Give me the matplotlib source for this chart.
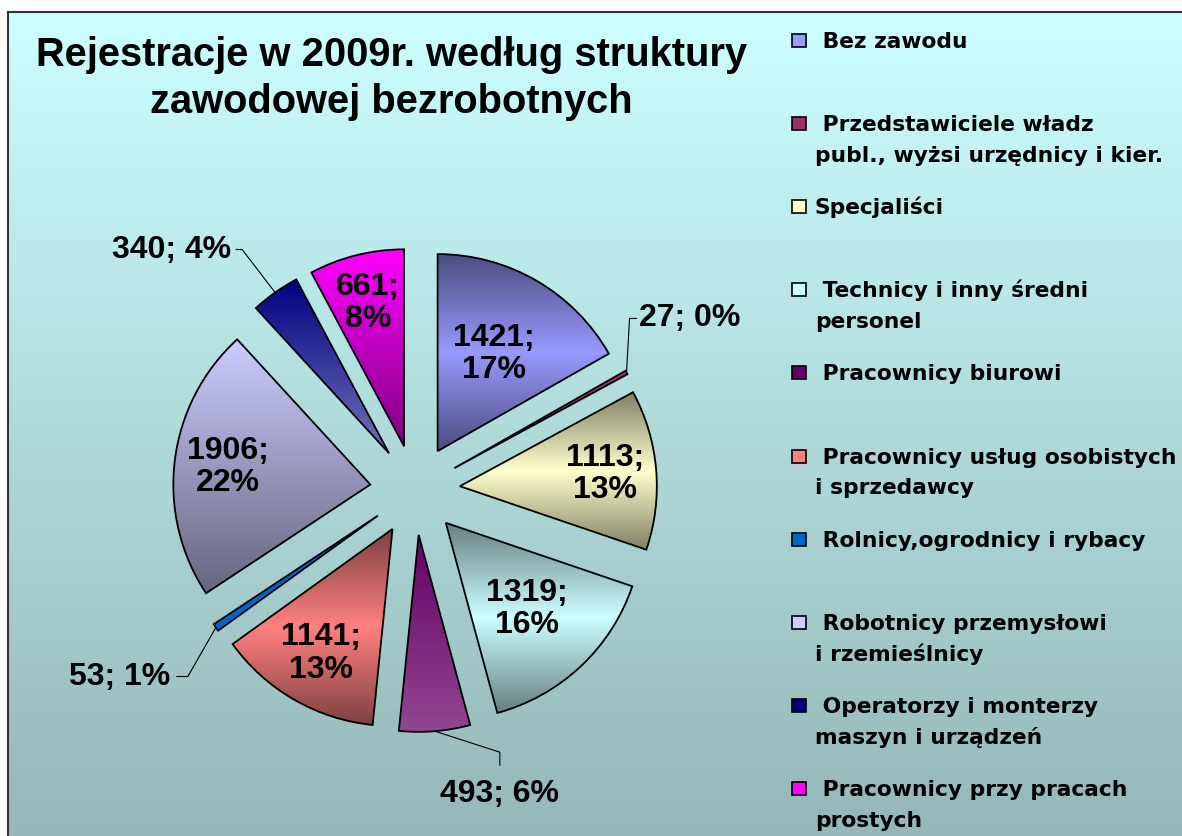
import numpy as np
import matplotlib
matplotlib.use("Agg")
import matplotlib.pyplot as plt
from matplotlib.colors import to_rgb
from matplotlib.patches import Rectangle

# ---------------- data ----------------
categories = [
    " Bez zawodu",
    " Przedstawiciele władz\npubl., wyżsi urzędnicy i kier.",
    "Specjaliści",
    " Technicy i inny średni\npersonel",
    " Pracownicy biurowi",
    " Pracownicy usług osobistych\ni sprzedawcy",
    " Rolnicy,ogrodnicy i rybacy",
    " Robotnicy przemysłowi\ni rzemieślnicy",
    " Operatorzy i monterzy\nmaszyn i urządzeń",
    " Pracownicy przy pracach\nprostych",
]
values = [1421, 27, 1113, 1319, 493, 1141, 53, 1906, 340, 661]
colors = ["#9999FF", "#993366", "#FFFFCC", "#CCFFFF", "#660066",
          "#FF8080", "#0066CC", "#CCCCFF", "#000080", "#FF00FF"]
title = "Rejestracje w 2009r. według struktury\nzawodowej bezrobotnych"

# ---------------- style ----------------
grad_styles = [("center", 0.5), ("flat", 0), ("center", 0.5), ("center", 0.5),
               ("up_tint", 0.28), ("center", 0.5), ("flat", 0), ("down", 0.5),
               ("up_tint", 0.45), ("down", 0.5)]
# inside label distance (fraction of radius) or None for outside labels
label_dist = [0.57, None, 0.74, 0.60, None, 0.73, None, 0.73, None, 0.75]
# outside labels: (elbow offset, end offset, text offset, ha) in screen px
outside = {
    1: ((3, -54), (7, 0), (2, 0), "left"),
    4: ((65, 21), (0, 13), (0, 29), "center"),
    6: ((-28, 49), (-11, 0), (-7, 0), "right"),
    8: ((-33, -43), (-6, 0), (-5, 0), "right"),
}

W, H = 1182, 836
fig = plt.figure(figsize=(W / 100, H / 100), dpi=100)
fig.patch.set_facecolor("white")
ax = fig.add_axes([0, 0, 1, 1])


def Y(sy):
    return H - sy


LAB_FONT = "Liberation Sans"
LEG_FONT = "DejaVu Sans"


def shade(c, f):
    return np.array(to_rgb(c)) * f


def tint(c, f):
    c = np.array(to_rgb(c))
    return c + (1 - c) * f


def stops_for(style, c):
    kind, f = style
    base = np.array(to_rgb(c))
    if kind == "center":
        return [(0, shade(c, f)), (0.5, base), (1, shade(c, f))]
    if kind == "down":
        return [(0, base), (1, shade(c, f))]
    if kind == "up_tint":
        return [(0, base), (1, tint(c, f))]
    return [(0, base), (1, base)]


def grad_img(stops, n=256):
    pos = np.array([s[0] for s in stops])
    cols = np.array([s[1] for s in stops])
    t = np.linspace(0, 1, n)
    arr = np.stack([np.interp(t, pos, cols[:, k]) for k in range(3)], axis=-1)
    return arr[:, None, :]


# background gradient + frame
bg = grad_img([(0, to_rgb("#CCFFFF")), (1, to_rgb("#95B7B7"))])
ax.imshow(bg, extent=(8, W, 0, Y(12)), origin="upper", aspect="auto",
          interpolation="bilinear", zorder=0)
ax.plot([8, 8], [0, Y(12)], color="#333333", lw=1.5, zorder=0.5,
        solid_capstyle="projecting")
ax.plot([8, W], [Y(12), Y(12)], color="#333333", lw=1.5, zorder=0.5,
        solid_capstyle="projecting")

# pie
cx, cy = 415, Y(490)
R = 197
EXP = 45
total = sum(values)
wedges, _ = ax.pie(values, startangle=90, counterclock=False, center=(cx, cy),
                   radius=R, explode=[EXP] * len(values), colors=colors,
                   wedgeprops=dict(edgecolor="black", linewidth=1.3))

for i, w in enumerate(wedges):
    ext = w.get_path().get_extents()
    img = ax.imshow(grad_img(stops_for(grad_styles[i], colors[i])),
                    extent=(ext.x0, ext.x1, ext.y0, ext.y1), origin="upper",
                    aspect="auto", interpolation="bilinear", zorder=1.5)
    img.set_clip_path(w)
    w.set_facecolor("none")
    w.set_zorder(2)

    pct = round(values[i] / total * 100)
    th = np.deg2rad((w.theta1 + w.theta2) / 2)
    d = np.array([np.cos(th), np.sin(th)])
    c0 = np.array(w.center)
    if label_dist[i] is not None:
        p = c0 + label_dist[i] * R * d
        ax.text(p[0], p[1], f"{values[i]};\n{pct}%", ha="center", va="center",
                fontsize=23, fontweight="bold", family=LAB_FONT,
                linespacing=1.1, zorder=3)
    else:
        el, en, to, ha = outside[i]
        P = c0 + R * d
        E = P + np.array([el[0], -el[1]])
        N = E + np.array([en[0], -en[1]])
        T = N + np.array([to[0], -to[1]])
        ax.plot([P[0], E[0], N[0]], [P[1], E[1], N[1]], color="black",
                lw=0.8, zorder=3)
        ax.text(T[0], T[1], f"{values[i]}; {pct}%", ha=ha, va="center",
                fontsize=23, fontweight="bold", family=LAB_FONT, zorder=3)

# title
title_lines = title.split("\n")
for j, line in enumerate(title_lines):
    ax.text(391, Y(66 + j * 47), line, ha="center", va="baseline",
            fontsize=28.7, fontweight="bold", family=LAB_FONT, zorder=3)

# legend
for i, cat in enumerate(categories):
    y0 = 40 + i * 83.2
    ax.add_patch(Rectangle((792, Y(y0 + 6.5)), 14, 13, facecolor=colors[i],
                           edgecolor="black", lw=1.2, zorder=3))
    for j, line in enumerate(cat.split("\n")):
        ax.text(815, Y(y0 + 7.5 + j * 31), line, ha="left", va="baseline",
                fontsize=15.7, fontweight="bold", family=LEG_FONT, zorder=3)

ax.set_xlim(0, W)
ax.set_ylim(0, H)
ax.set_aspect("auto")
ax.axis("off")

fig.savefig("out.png", dpi=100, facecolor="white")
